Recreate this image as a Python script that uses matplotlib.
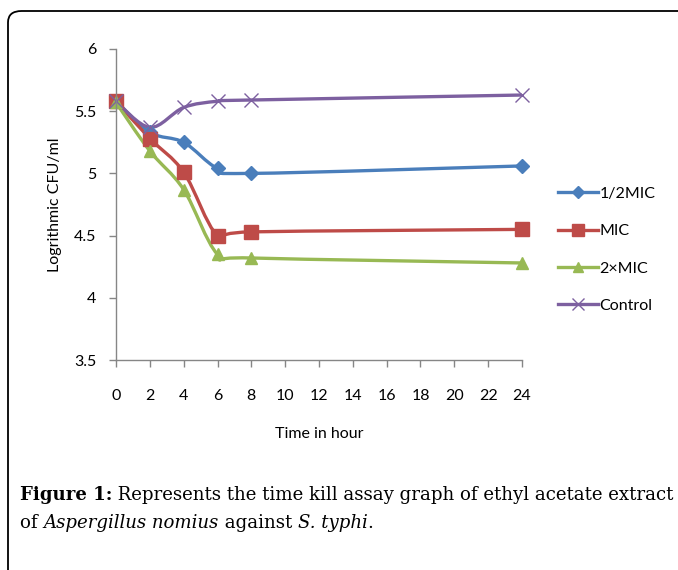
import numpy as np
import matplotlib
matplotlib.use("Agg")
import matplotlib.pyplot as plt
from matplotlib.path import Path
from matplotlib.patches import PathPatch, FancyBboxPatch
from matplotlib.lines import Line2D

hours = [0, 2, 4, 6, 8, 24]
half_mic = [5.58, 5.33, 5.25, 5.04, 5.00, 5.06]
mic = [5.58, 5.28, 5.01, 4.50, 4.53, 4.55]
two_mic = [5.57, 5.18, 4.87, 4.35, 4.32, 4.28]
control = [5.58, 5.37, 5.53, 5.58, 5.59, 5.63]
series_names = ["1/2MIC", "MIC", "2\u00d7MIC", "Control"]
x_ticks = list(range(0, 25, 2))
y_ticks = [3.5, 4, 4.5, 5, 5.5, 6]
y_tick_labels = ["3.5", "4", "4.5", "5", "5.5", "6"]

colors = ["#4A7EBB", "#BE4B48", "#98B954", "#7D60A0"]
markers = ["D", "s", "^", "x"]
msizes = [7.5, 9.5, 8.5, 10]

font = "Lato"
fs = 11.5
serif = "DejaVu Serif"
cfs = 13.1

fig = plt.figure(figsize=(6.78, 5.70), dpi=100)
fig.patch.set_facecolor("white")

# outer rounded frame
frame = FancyBboxPatch((8 / 678, -0.2), 1.2, 1.2 - 11 / 570,
                       boxstyle="round,pad=0,rounding_size=0.02",
                       transform=fig.transFigure, fill=False,
                       edgecolor="black", linewidth=1.3)
fig.patches.append(frame)

ax = fig.add_axes([116 / 678, 1 - 360 / 570, (522 - 116) / 678, (360 - 49) / 570])
ax.set_xlim(0, 24)
ax.set_ylim(3.5, 6)
for s in ["top", "right"]:
    ax.spines[s].set_visible(False)
for s in ["left", "bottom"]:
    ax.spines[s].set_color("#868686")
    ax.spines[s].set_linewidth(1.0)
ax.set_xticks(x_ticks)
ax.set_yticks(y_ticks)
ax.set_yticklabels(y_tick_labels)
ax.tick_params(axis="both", colors="#868686", length=5, width=1.0,
               labelcolor="black", labelsize=fs)
ax.tick_params(axis="x", pad=16)
ax.tick_params(axis="y", pad=9)
for lab in ax.get_xticklabels() + ax.get_yticklabels():
    lab.set_fontfamily(font)
ax.set_xlabel("Time in hour", fontfamily=font, fontsize=fs)
ax.set_ylabel("Logrithmic CFU/ml", fontfamily=font, fontsize=fs)
ax.xaxis.set_label_coords(0.5, (360 - 427) / 311)
ax.yaxis.set_label_coords((62 - 116) / 406, 0.5)


def smooth_path(xs, ys):
    pts = np.column_stack([xs, ys]).astype(float)
    n = len(pts)
    verts = [pts[0]]
    codes = [Path.MOVETO]
    for i in range(n - 1):
        p0 = pts[i - 1] if i > 0 else pts[i]
        p1 = pts[i]
        p2 = pts[i + 1]
        p3 = pts[i + 2] if i + 2 < n else pts[i + 1]
        c1 = p1 + (p2 - p0) / 6.0
        c2 = p2 - (p3 - p1) / 6.0
        verts += [c1, c2, p2]
        codes += [Path.CURVE4] * 3
    return Path(verts, codes)


all_series = [half_mic, mic, two_mic, control]
handles = []
for vals, c, m, ms, name in zip(all_series, colors, markers, msizes, series_names):
    patch = PathPatch(smooth_path(hours, vals), fill=False, edgecolor=c,
                      linewidth=2.4, capstyle="round", joinstyle="round")
    ax.add_patch(patch)
    ax.plot(hours, vals, linestyle="none", marker=m, markersize=ms,
            markerfacecolor=c, markeredgecolor=c, markeredgewidth=1.0,
            clip_on=False)
    handles.append(Line2D([], [], color=c, linewidth=2.4, marker=m,
                          markersize=ms * 0.85, markerfacecolor=c,
                          markeredgecolor=c, markeredgewidth=1.0))

leg = fig.legend(handles, series_names, loc="upper left",
                 bbox_to_anchor=(553 / 678, 1 - 182 / 570),
                 frameon=False, handlelength=2.5, handletextpad=0.1,
                 labelspacing=1.45, borderaxespad=0, borderpad=0.3,
                 prop={"family": font, "size": fs})

renderer = fig.canvas.get_renderer()


def draw_pieces(x_px, y_px, pieces):
    x = x_px / 678
    for txt, weight, style in pieces:
        t = fig.text(x, 1 - y_px / 570, txt, fontfamily=serif, fontsize=cfs,
                     fontweight=weight, fontstyle=style,
                     va="baseline", ha="left")
        bb = t.get_window_extent(renderer)
        x += bb.width / fig.bbox.width


draw_pieces(20, 500, [
    ("Figure 1:", "bold", "normal"),
    (" Represents the time kill assay graph of ethyl acetate extract", "normal", "normal"),
])
draw_pieces(20, 528, [
    ("of ", "normal", "normal"),
    ("Aspergillus nomius", "normal", "italic"),
    (" against ", "normal", "normal"),
    ("S. typhi", "normal", "italic"),
    (".", "normal", "normal"),
])

fig.savefig("out.png", dpi=100)
